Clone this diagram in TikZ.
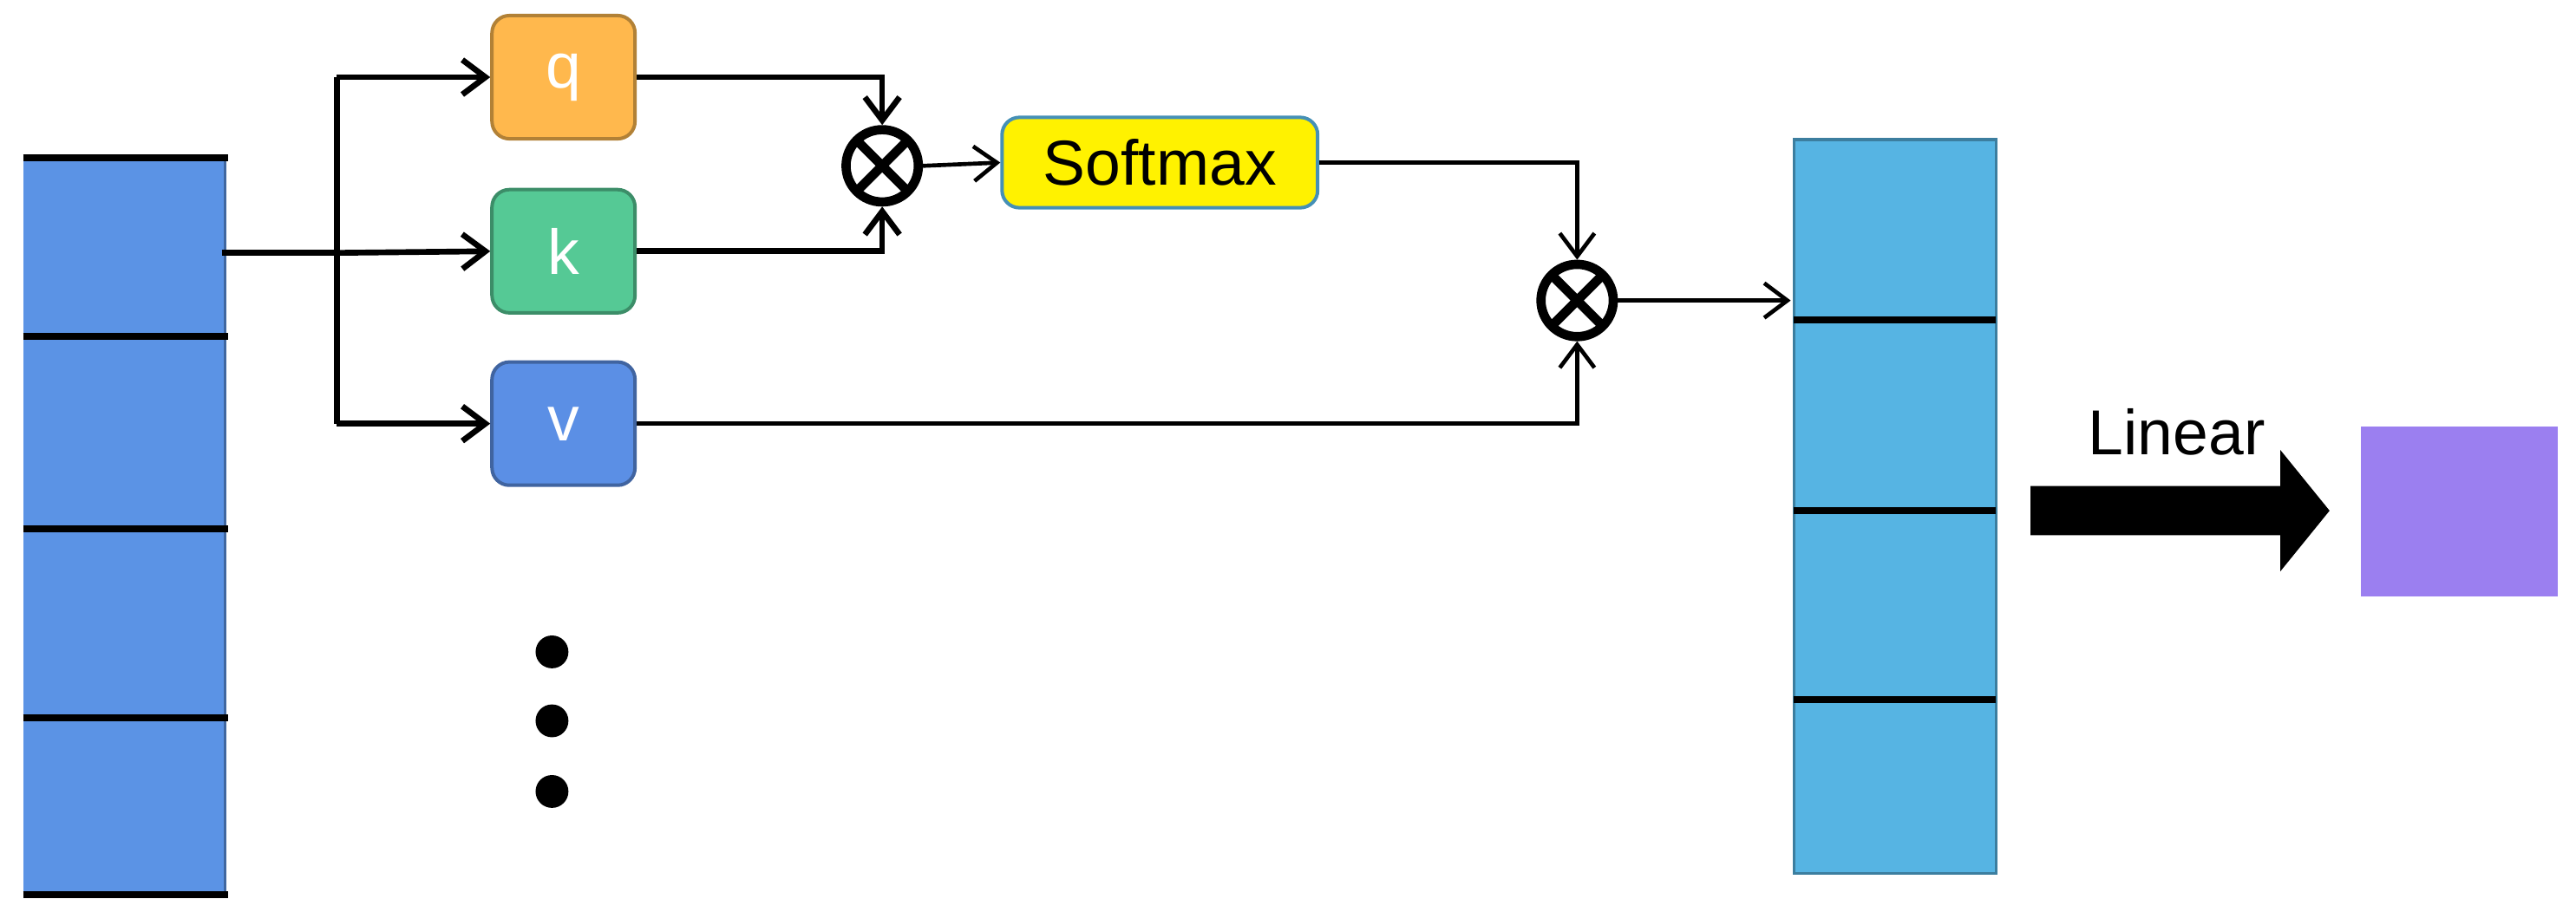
\documentclass[tikz,border=0pt]{standalone}
\usepackage{fontspec}
\setmainfont{Liberation Sans}
\usetikzlibrary{arrows.meta,shapes.multipart}
\begin{document}
\begin{tikzpicture}[x=0.01cm,y=-0.01cm,
  box/.style={rounded corners=3pt,draw=#1!70!black,line width=0.6pt,minimum width=0.87cm,minimum height=0.75cm,text=white,font=\fontsize{11}{13}\selectfont},
  conn/.style={line width=1pt,-{Straight Barb[length=4pt,width=6pt]}},
  thin/.style={line width=0.7pt,-{Straight Barb[length=4pt,width=6pt]}},
  otim/.style={circle,draw,line width=1.6pt,minimum size=0.44cm,inner sep=0pt,path picture={\draw[line width=1.6pt](path picture bounding box.north west)--(path picture bounding box.south east)(path picture bounding box.north east)--(path picture bounding box.south west);}}]
\useasboundingbox (0,0) rectangle (1568,555);
\definecolor{lb}{HTML}{5B93E5}\definecolor{rb}{HTML}{56B4E3}
\definecolor{qo}{HTML}{FFB84D}\definecolor{kg}{HTML}{55C995}\definecolor{vb}{HTML}{5B8FE5}
\definecolor{pu}{HTML}{9B7FF0}
% left stack
\fill[lb] (14,96) rectangle (137,545);
\draw[line width=0.5pt,lb!70!black] (137,96)--(137,545);
\foreach \y in {96,205,322,437,545} \draw[line width=1.2pt] (14,\y)--(139,\y);
\coordinate (src) at (135,154);
\coordinate (br) at (205,154);
\node[box=qo,fill=qo] (q) at (343,47) {q};
\node[box=kg,fill=kg] (k) at (343,153) {k};
\node[box=vb,fill=vb] (v) at (343,258) {v};
\draw[line width=1pt] (src)--(br);
\draw[line width=1pt] (205,47)--(205,258);
\draw[conn] (205,47)--(q.west);
\draw[conn] (br)--(k.west);
\draw[conn] (205,258)--(v.west);
\node[otim] (m1) at (537,101) {};
\node[otim] (m2) at (960,183) {};
\draw[conn] (q.east)-|(m1.north);
\draw[conn] (k.east)-|(m1.south);
\node[rounded corners=3pt,draw=rb!80!black,fill=yellow,line width=0.6pt,minimum width=1.92cm,minimum height=0.55cm,font=\fontsize{11}{13}\selectfont] (sm) at (706,99) {Softmax};
\draw[thin] (m1.east)--(sm.west);
\draw[thin] (sm.east)-|(m2.north);
\draw[thin] (v.east)-|(m2.south);
% right stack
\fill[rb] (1092,85) rectangle (1215,532);
\draw[line width=0.5pt,rb!70!black] (1092,85) rectangle (1215,532);
\foreach \y in {195,311,426} \draw[line width=1.2pt] (1092,\y)--(1215,\y);
\coordinate (rin) at (1090,183);
\draw[thin] (m2.east)--(rin);
% big arrow
\fill (1236,296)--(1388,296)--(1388,274)--(1418,311)--(1388,348)--(1388,326)--(1236,326)--cycle;
\node[font=\fontsize{11}{13}\selectfont] (lin) at (1325,263) {Linear};
\fill[pu] (1437,260) rectangle (1557,363);
\foreach \y in {397,439,482} \fill (336,\y) circle (10);
\end{tikzpicture}
\end{document}
